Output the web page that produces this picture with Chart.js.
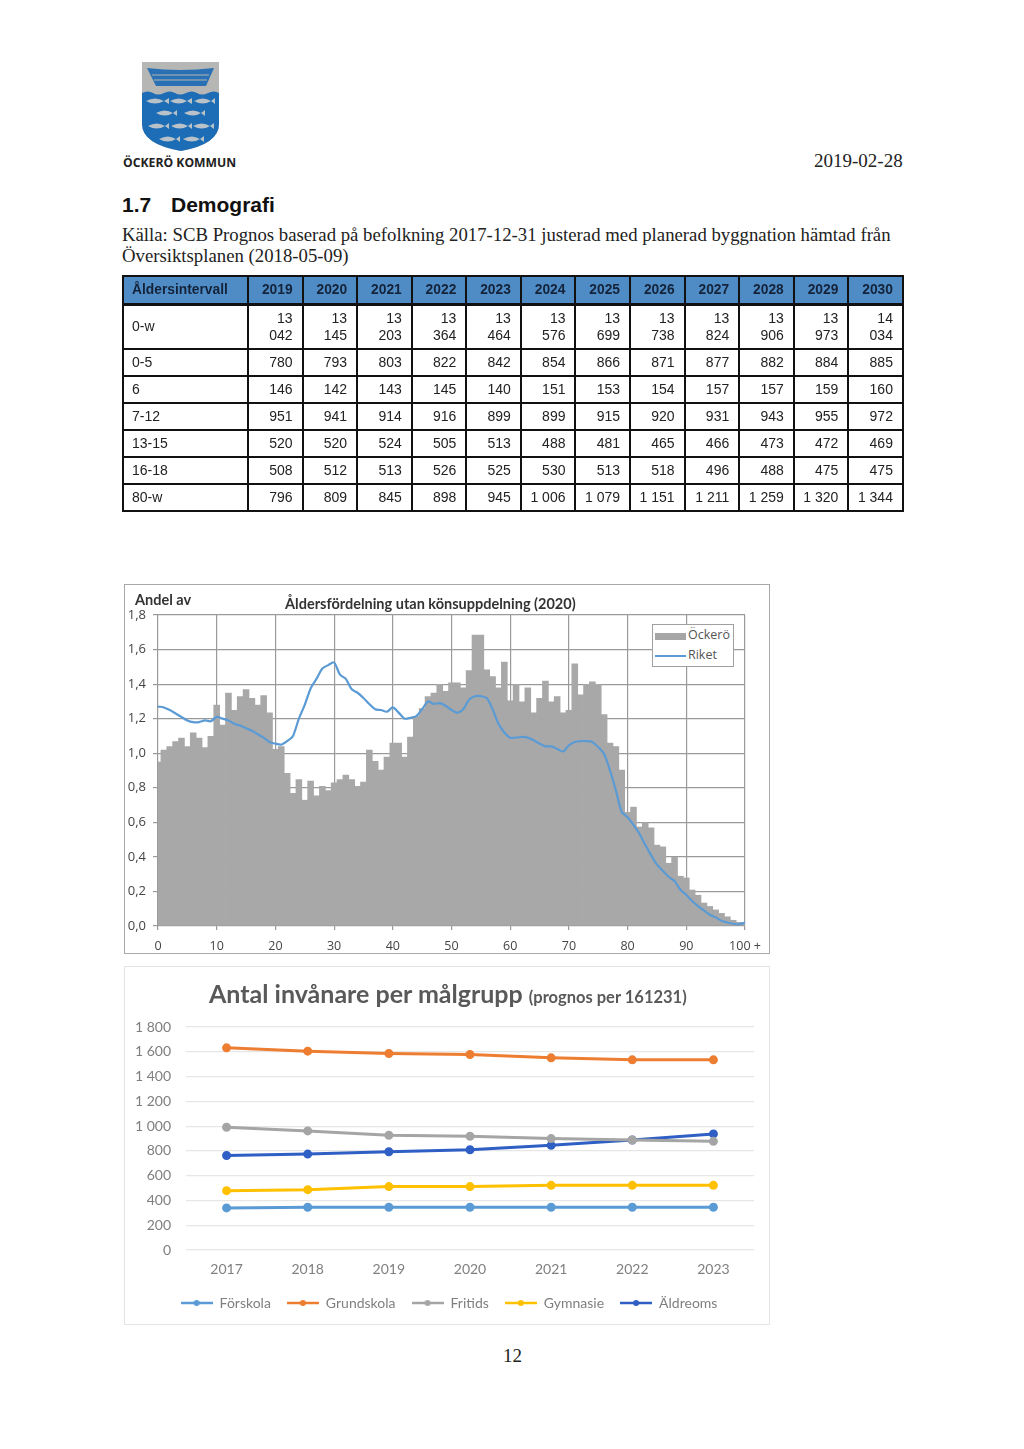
<!DOCTYPE html>
<html lang="sv">
<head>
<meta charset="utf-8">
<title>Demografi</title>
<script src="https://cdn.jsdelivr.net/npm/chart.js@4"></script>
<style>
html, body { margin: 0; padding: 0; background: #fff; }
body { position: relative; width: 1024px; height: 1449px; overflow: hidden; color: #1a1a1a; }
.abs { position: absolute; white-space: nowrap; }
canvas { position: absolute; filter: blur(0.45px); }
#popTable { position: absolute; left: 122px; top: 275px; width: 780px; border-collapse: collapse; table-layout: fixed;
  font: 14px "Liberation Sans", Arial, sans-serif; color: #222; filter: blur(0.25px); }
#popTable th, #popTable td { border: 2px solid #111; box-sizing: border-box; padding: 0 9px 0 4px; text-align: right; line-height: 17px; }
#popTable th { background: #4f8cc6; color: #14233a; font-size: 13.8px; font-weight: bold; height: 28px; border-bottom: 3px solid #111; }
#popTable td { height: 27px; }
#popTable .lbl { text-align: left; padding-left: 8px; }
#chart1Box { position: absolute; left: 124px; top: 584px; width: 646px; height: 370px; box-sizing: border-box; border: 1px solid #a8a8a8; }
#chart2Box { position: absolute; left: 124px; top: 966px; width: 646px; height: 359px; box-sizing: border-box; border: 1px solid #e4e4e4; }
#legend1 { position: absolute; left: 652px; top: 624px; width: 82px; height: 43px; box-sizing: border-box; background: #fff; border: 1px solid #a0a0a0;
  font: 12.5px "Open Sans", sans-serif; color: #555; }
#legend1 .sw { position: absolute; left: 2px; width: 31px; }
#legend1 .tx { position: absolute; left: 35px; }
</style>
</head>
<body>

<svg class="abs" style="left:0;top:0" width="260" height="155">
  <path d="M142 62 H219 V124 Q219 144 181 151 Q142 144 142 124 Z" fill="#b6b6b4"/>
  <path d="M142 93 q6 -3 11 0 t11 0 t11 0 t11 0 t11 0 t11 0 t11 0 V124 Q219 144 181 151 Q142 144 142 124 Z" fill="#1c6cb6"/>
  <path d="M147 68 Q180 72 214 68 L206 86 H156 Z" fill="#2a70b4"/>
  <path d="M152 75 H209 M154 80 H207" stroke="#b6b6b4" stroke-width="1"/>
  <g fill="#b9c2c8">
    <path d="M146 101 q9 -5 18 0 l5 -3 v6 l-5 -3 q-9 5 -18 0z"/>
    <path d="M170 101 q9 -5 17 0 l5 -3 v6 l-5 -3 q-8 5 -17 0z"/>
    <path d="M194 101 q9 -5 17 0 l4 -3 v6 l-4 -3 q-8 5 -17 0z"/>
    <path d="M156 113 q9 -5 17 0 l4 -3 v6 l-4 -3 q-8 5 -17 0z"/>
    <path d="M184 113 q9 -5 17 0 l4 -3 v6 l-4 -3 q-8 5 -17 0z"/>
    <path d="M148 126 q9 -5 17 0 l4 -3 v6 l-4 -3 q-8 5 -17 0z"/>
    <path d="M171 126 q9 -5 17 0 l4 -3 v6 l-4 -3 q-8 5 -17 0z"/>
    <path d="M193 126 q9 -5 17 0 l4 -3 v6 l-4 -3 q-8 5 -17 0z"/>
    <path d="M159 139 q9 -5 17 0 l4 -3 v6 l-4 -3 q-8 5 -17 0z"/>
    <path d="M183 139 q9 -5 17 0 l4 -3 v6 l-4 -3 q-8 5 -17 0z"/>
  </g>
</svg>
<div class="abs" style="left:123px;top:154px;font:bold 12.2px 'Open Sans',sans-serif;color:#222">ÖCKERÖ KOMMUN</div>
<div class="abs" style="left:814px;top:150px;font:19px 'Liberation Serif',serif;color:#222">2019-02-28</div>
<div class="abs" style="left:122px;top:193px;font:bold 21px 'Liberation Sans',sans-serif;color:#111">1.7</div>
<div class="abs" style="left:171px;top:193px;font:bold 21px 'Liberation Sans',sans-serif;color:#111">Demografi</div>
<div class="abs" style="left:122px;top:224px;font:18.75px 'Liberation Serif',serif;color:#222">Källa: SCB Prognos baserad på befolkning 2017-12-31 justerad med planerad byggnation hämtad från</div>
<div class="abs" style="left:122px;top:245px;font:18.75px 'Liberation Serif',serif;color:#222">Översiktsplanen (2018-05-09)</div>

<table id="popTable"></table>

<div id="chart1Box"></div>
<canvas id="ageChart" width="646" height="370" style="left:124px;top:584px"></canvas>
<div class="abs" style="left:135px;top:591px;font:bold 14.5px Lato,sans-serif;color:#333">Andel av</div>
<div class="abs" style="left:285px;top:595px;font:bold 14.5px Lato,sans-serif;color:#333">Åldersfördelning utan könsuppdelning (2020)</div>
<div id="legend1">
  <div class="sw" style="top:8px;height:7px;background:#a6a6a6"></div>
  <div class="tx" style="top:1px">Öckerö</div>
  <div class="sw" style="top:30px;height:1.5px;background:#5b9bd5"></div>
  <div class="tx" style="top:21px">Riket</div>
</div>

<div id="chart2Box"></div>
<canvas id="groupChart" width="646" height="359" style="left:124px;top:966px"></canvas>
<div class="abs" style="left:209px;top:978px;color:#595959;font:bold 25px Lato,sans-serif">Antal invånare per målgrupp <span style="font-size:16.5px">(prognos per 161231)</span></div>

<div class="abs" style="left:503px;top:1345px;font:19px 'Liberation Serif',serif;color:#222">12</div>

<script>
// table
const tableYears = ['2019', '2020', '2021', '2022', '2023', '2024', '2025', '2026', '2027', '2028', '2029', '2030'];
const ageGroups = ['0-w', '0-5', '6', '7-12', '13-15', '16-18', '80-w'];
const group0w = ['13 042', '13 145', '13 203', '13 364', '13 464', '13 576', '13 699', '13 738', '13 824', '13 906', '13 973', '14 034'];
const group0to5 = ['780', '793', '803', '822', '842', '854', '866', '871', '877', '882', '884', '885'];
const group6 = ['146', '142', '143', '145', '140', '151', '153', '154', '157', '157', '159', '160'];
const group7to12 = ['951', '941', '914', '916', '899', '899', '915', '920', '931', '943', '955', '972'];
const group13to15 = ['520', '520', '524', '505', '513', '488', '481', '465', '466', '473', '472', '469'];
const group16to18 = ['508', '512', '513', '526', '525', '530', '513', '518', '496', '488', '475', '475'];
const group80w = ['796', '809', '845', '898', '945', '1 006', '1 079', '1 151', '1 211', '1 259', '1 320', '1 344'];

// age distribution chart, one value per age 0..100
const ockeroShare = [
    0.95, 1.02, 1.04, 1.07, 1.09, 1.04, 1.12, 1.09, 1.035, 1.10,
    1.28, 1.165, 1.35, 1.25, 1.33, 1.37, 1.32, 1.28, 1.335, 1.235,
    1.025, 1.04, 0.885, 0.77, 0.85, 0.73, 0.84, 0.755, 0.81, 0.785,
    0.83, 0.85, 0.875, 0.85, 0.81, 0.835, 1.02, 0.955, 0.905, 0.98,
    1.06, 1.06, 0.98, 1.095, 1.215, 1.26, 1.33, 1.35, 1.40, 1.36,
    1.41, 1.41, 1.38, 1.48, 1.685, 1.685, 1.485, 1.445, 1.38, 1.53,
    1.305, 1.40, 1.30, 1.38, 1.235, 1.32, 1.42, 1.30, 1.33, 1.235,
    1.25, 1.52, 1.34, 1.40, 1.415, 1.40, 1.225, 1.06, 1.04, 0.905,
    0.66, 0.69, 0.575, 0.60, 0.57, 0.47, 0.46, 0.365, 0.40, 0.29,
    0.28, 0.21, 0.18, 0.135, 0.115, 0.095, 0.075, 0.055, 0.035, 0.023,
    0.02
];
const riketShare = [
    1.27, 1.265, 1.25, 1.23, 1.21, 1.19, 1.18, 1.18, 1.19, 1.185,
    1.21, 1.20, 1.19, 1.17, 1.16, 1.145, 1.13, 1.11, 1.09, 1.065,
    1.055, 1.05, 1.07, 1.10, 1.20, 1.28, 1.375, 1.43, 1.49, 1.51,
    1.525, 1.455, 1.43, 1.37, 1.35, 1.32, 1.285, 1.255, 1.25, 1.24,
    1.265, 1.235, 1.20, 1.205, 1.215, 1.255, 1.30, 1.285, 1.29, 1.275,
    1.25, 1.235, 1.255, 1.31, 1.33, 1.33, 1.32, 1.255, 1.17, 1.12,
    1.09, 1.09, 1.095, 1.09, 1.075, 1.055, 1.04, 1.04, 1.025, 1.01,
    1.045, 1.065, 1.07, 1.07, 1.065, 1.035, 0.995, 0.90, 0.785, 0.66,
    0.63, 0.585, 0.535, 0.47, 0.41, 0.355, 0.32, 0.285, 0.26, 0.21,
    0.18, 0.145, 0.115, 0.09, 0.065, 0.05, 0.03, 0.02, 0.013, 0.01,
    0.02
];
const ages = ockeroShare.map((_, i) => (i === 100 ? '100 +' : String(i)));

// target group chart
const groupYears = ['2017', '2018', '2019', '2020', '2021', '2022', '2023'];
const forskola = [340, 345, 345, 345, 345, 345, 345];
const grundskola = [1632, 1605, 1586, 1578, 1551, 1535, 1535];
const fritids = [991, 961, 926, 918, 899, 888, 877];
const gymnasie = [479, 487, 512, 512, 522, 522, 522];
const aldreoms = [763, 774, 793, 809, 845, 888, 937];

// build the table, only the 0-w row wraps its values
const tableRows = [group0w, group0to5, group6, group7to12, group13to15, group16to18, group80w];
const table = document.getElementById('popTable');
let html = '<colgroup><col style="width:125px">' + tableYears.map(() => '<col style="width:54.58px">').join('') + '</colgroup>';
html += '<tr><th class="lbl">Åldersintervall</th>' + tableYears.map(y => `<th>${y}</th>`).join('') + '</tr>';
tableRows.forEach((row, i) => {
    const style = i === 0 ? ' style="height:45px"' : '';
    const sep = i === 0 ? '<br>' : '&nbsp;';
    html += `<tr${style}><td class="lbl">${ageGroups[i]}</td>` + row.map(v => `<td>${v.replace(' ', sep)}</td>`).join('') + '</tr>';
});
table.innerHTML = html;

const isTen = ctx => ctx.index % 10 === 0;

new Chart(document.getElementById('ageChart'), {
    type: 'bar',
    data: {
        labels: ages,
        datasets: [
            { type: 'line', label: 'Riket', data: riketShare, borderColor: '#5b9bd5', borderWidth: 2.2, pointRadius: 0, tension: 0.25, order: 1 },
            { label: 'Öckerö', data: ockeroShare, backgroundColor: '#a8a8a8', categoryPercentage: 1, barPercentage: 1.12, order: 2 }
        ]
    },
    options: {
        responsive: false,
        animation: false,
        layout: { padding: { left: 0, right: 25, top: 31, bottom: 0 } },
        plugins: { legend: { display: false }, title: { display: false }, tooltip: { enabled: false } },
        scales: {
            x: {
                offset: false,
                grid: {
                    offset: false,
                    color: ctx => (isTen(ctx) ? '#9a9a9a' : 'transparent'),
                    tickColor: ctx => (isTen(ctx) ? '#9a9a9a' : 'transparent'),
                    lineWidth: 1.2,
                    tickLength: 4
                },
                border: { display: false },
                ticks: {
                    autoSkip: false,
                    maxRotation: 0,
                    padding: 9,
                    color: '#444',
                    font: { family: '"Open Sans", sans-serif', size: 12.5 },
                    callback(value, index) { return index % 10 === 0 ? this.getLabelForValue(value) : ''; }
                },
                afterFit(scale) { scale.height = 28; }
            },
            y: {
                min: 0,
                max: 1.8,
                grid: { color: '#9a9a9a', lineWidth: 1.2, tickLength: 5 },
                border: { display: false },
                ticks: {
                    stepSize: 0.2,
                    padding: 7,
                    color: '#444',
                    font: { family: '"Open Sans", sans-serif', size: 13 },
                    callback: v => v.toFixed(1).replace('.', ',')
                },
                afterFit(scale) { scale.width = 34; }
            }
        }
    }
});

// legend mark: short line with a dot in the middle
function legendMark(color) {
    const mark = document.createElement('canvas');
    mark.width = 32;
    mark.height = 10;
    const c = mark.getContext('2d');
    c.strokeStyle = color;
    c.fillStyle = color;
    c.lineWidth = 2.5;
    c.beginPath();
    c.moveTo(0, 5);
    c.lineTo(32, 5);
    c.stroke();
    c.beginPath();
    c.arc(16, 5, 3, 0, Math.PI * 2);
    c.fill();
    return mark;
}

const groupSeries = [
    ['Förskola', forskola, '#5b9bd5'],
    ['Grundskola', grundskola, '#ed7d31'],
    ['Fritids', fritids, '#a5a5a5'],
    ['Gymnasie', gymnasie, '#ffc000'],
    ['Äldreoms', aldreoms, '#2f5fc4']
];

// the legend sits a bit right of the canvas centre
const nudgeLegend = {
    id: 'nudgeLegend',
    afterLayout(chart) {
        chart.legend.left += 10;
        chart.legend.right += 10;
    }
};

new Chart(document.getElementById('groupChart'), {
    type: 'line',
    data: {
        labels: groupYears,
        datasets: groupSeries.map(([label, data, color]) => ({
            label, data,
            borderColor: color,
            backgroundColor: color,
            borderWidth: 3,
            pointRadius: 3,
            pointBackgroundColor: color,
            pointBorderColor: color,
            tension: 0
        }))
    },
    plugins: [nudgeLegend],
    options: {
        responsive: false,
        animation: false,
        layout: { padding: { left: 0, right: 16, top: 61, bottom: 5 } },
        plugins: {
            title: { display: false },
            tooltip: { enabled: false },
            legend: {
                position: 'bottom',
                labels: {
                    usePointStyle: true,
                    pointStyleWidth: 32,
                    padding: 16,
                    color: '#7f7f7f',
                    font: { family: 'Lato, sans-serif', size: 14 },
                    generateLabels(chart) {
                        return Chart.defaults.plugins.legend.labels.generateLabels(chart).map((item, i) => {
                            item.pointStyle = legendMark(groupSeries[i][2]);
                            return item;
                        });
                    }
                }
            }
        },
        scales: {
            x: {
                offset: true,
                grid: { display: false },
                border: { display: false },
                ticks: { padding: 3, color: '#7f7f7f', font: { family: 'Lato, sans-serif', size: 14 } },
                afterFit(scale) { scale.height = 30; }
            },
            y: {
                min: 0,
                max: 1800,
                grid: { color: '#e6e6e6', lineWidth: 1.2, drawTicks: false },
                border: { display: false },
                ticks: {
                    stepSize: 200,
                    padding: 15,
                    color: '#7f7f7f',
                    font: { family: 'Lato, sans-serif', size: 14 },
                    callback: v => String(v).replace(/\B(?=(\d{3})+$)/g, ' ')
                },
                afterFit(scale) { scale.width = 62; }
            }
        }
    }
});
</script>
</body>
</html>
